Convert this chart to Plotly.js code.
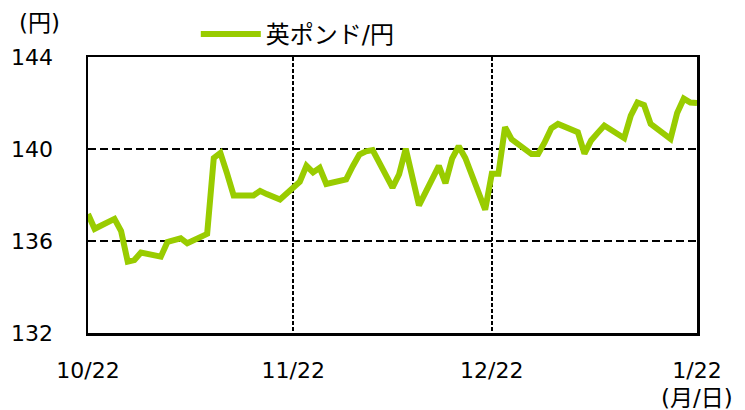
<!DOCTYPE html>
<html>
<head>
<meta charset="utf-8">
<script src="https://cdn.plot.ly/plotly-3.0.1.min.js"></script>
<style>html,body{margin:0;padding:0;background:#fff;}#chart{width:745px;height:410px;}</style>
</head>
<body>
<div id="chart"></div>
<script>
var dates = [
  "2020-10-22","2020-10-23","2020-10-26","2020-10-27","2020-10-28","2020-10-29","2020-10-30",
  "2020-11-02","2020-11-03","2020-11-04","2020-11-05","2020-11-06",
  "2020-11-09","2020-11-10","2020-11-11","2020-11-12","2020-11-13",
  "2020-11-16","2020-11-17","2020-11-18","2020-11-19","2020-11-20",
  "2020-11-23","2020-11-24","2020-11-25","2020-11-26","2020-11-27",
  "2020-11-30","2020-12-01","2020-12-02","2020-12-03","2020-12-04",
  "2020-12-07","2020-12-08","2020-12-09","2020-12-10","2020-12-11",
  "2020-12-14","2020-12-15","2020-12-16","2020-12-17","2020-12-18",
  "2020-12-21","2020-12-22","2020-12-23","2020-12-24","2020-12-25",
  "2020-12-28","2020-12-29","2020-12-30","2020-12-31","2021-01-01",
  "2021-01-04","2021-01-05","2021-01-06","2021-01-07","2021-01-08",
  "2021-01-11","2021-01-12","2021-01-13","2021-01-14","2021-01-15",
  "2021-01-18","2021-01-19","2021-01-20","2021-01-21","2021-01-22"
];
var gbpjpy = [
  137.17,136.53,136.96,136.43,135.10,135.17,135.50,
  135.32,135.96,136.05,136.12,135.90,
  136.31,139.61,139.83,138.94,137.98,
  137.98,138.18,138.04,137.93,137.80,
  138.58,139.27,138.98,139.18,138.48,
  138.68,139.25,139.76,139.90,139.95,
  138.32,138.90,140.01,138.80,137.55,
  139.27,138.51,139.58,140.12,139.61,
  137.36,138.92,138.92,140.95,140.42,
  139.78,139.78,140.30,140.90,141.09,
  140.73,139.80,140.37,140.70,141.02,
  140.47,141.45,142.02,141.91,141.09,
  140.44,141.56,142.19,142.02,142.00
];
var seriesName = "英ポンド/円";
var xTickVals = ["2020-10-22","2020-11-22","2020-12-22","2021-01-22"];
var xTickText = ["10/22","11/22","12/22","1/22"];
var yTickVals = [132,136,140,144];

var font = "DejaVu Sans, 'Noto Sans CJK JP', sans-serif";

var trace = {
  x: dates, y: gbpjpy, type: "scatter", mode: "lines", name: seriesName,
  line: {color: "#99CC00", width: 6}
};

var layout = {
  width: 745, height: 410,
  margin: {l: 88, r: 48, t: 54, b: 77},
  paper_bgcolor: "#fff", plot_bgcolor: "#fff",
  font: {family: font, size: 22, color: "#000"},
  showlegend: true,
  legend: {
    orientation: "h", x: 0.177, xanchor: "left", y: 1.0, yanchor: "bottom",
    yref: "paper", font: {family: font, size: 24, color: "#000"},
    itemwidth: 60, bgcolor: "rgba(0,0,0,0)"
  },
  xaxis: {
    type: "date", range: ["2020-10-22","2021-01-22"],
    tickmode: "array", tickvals: xTickVals, ticktext: xTickText,
    showgrid: true, gridcolor: "#000", gridwidth: 1.5, griddash: "4px,2px",
    showline: true, linecolor: "#000", linewidth: 2.5, mirror: true,
    ticks: "", ticklabelstandoff: 16, zeroline: false,
    tickfont: {family: font, size: 22, color: "#000"}
  },
  yaxis: {
    range: [132,144], tickmode: "array", tickvals: yTickVals,
    showgrid: true, gridcolor: "#000", gridwidth: 2, griddash: "8px,4px",
    showline: true, linecolor: "#000", linewidth: 2.5, mirror: true,
    ticks: "inside", ticklen: 8, tickwidth: 2, tickcolor: "#000",
    ticklabelstandoff: 28, zeroline: false,
    tickfont: {family: font, size: 22, color: "#000"}
  },
  annotations: [
    {text: "(円)", xref: "paper", yref: "paper", x: -0.08, y: 1.0, yshift: 34,
     xanchor: "center", yanchor: "middle", showarrow: false,
     font: {family: font, size: 23, color: "#000"}},
    {text: "(月/日)", xref: "paper", yref: "paper", x: 1.0, y: 0, yshift: -65,
     xanchor: "center", yanchor: "middle", showarrow: false,
     font: {family: font, size: 23, color: "#000"}}
  ]
};

Plotly.newPlot("chart", [trace], layout, {displayModeBar: false, staticPlot: true});
</script>
</body>
</html>
